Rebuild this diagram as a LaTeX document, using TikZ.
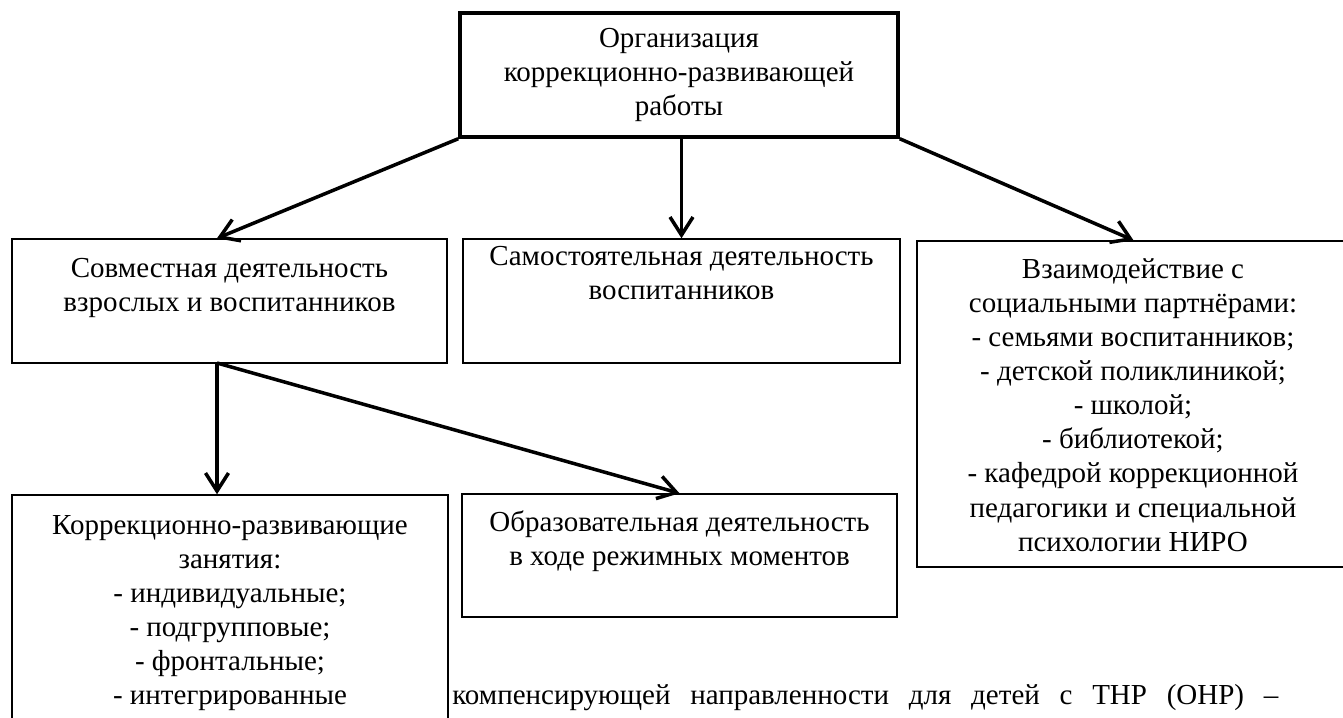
\documentclass[tikz,border=0pt]{standalone}
\usepackage{fontspec}
\setmainfont{Liberation Serif}
\usetikzlibrary{arrows.meta}
\tikzset{box/.style={draw, line width=0.8pt, inner sep=0pt},
         head/.style={draw, line width=2pt, align=center, minimum width=8.76cm, minimum height=2.48cm},
         txt/.style={align=center, inner sep=0pt},
         link/.style={line width=2pt, -{Straight Barb[length=3.6mm, width=4.6mm]}},
        }

\begin{document}
\begin{tikzpicture}[font=\fontsize{16.5}{19.4}\selectfont]
        \useasboundingbox (0,0) rectangle (26.86,14.36);
        \node[head](org)at(13.58,12.86){Организация\\коррекционно-развивающей\\работы};

        \node[box, minimum width=8.70cm, minimum height=2.48cm](sovm)at(4.59,8.34){};
        \node[txt](sovmt)at(4.59,8.60){Совместная деятельность\\взрослых и воспитанников};
        \node[box, minimum width=8.74cm, minimum height=2.48cm](samost)at(13.63,8.34){};
        \node[txt](samostt)at(13.63,8.90){Самостоятельная деятельность\\воспитанников};
        \node[box, minimum width=8.66cm, minimum height=6.52cm](vzaim)at(22.67,6.28){};
        \node[txt](vzaimt)at(22.66,6.26){Взаимодействие с\\социальными партнёрами:\\- семьями воспитанников;\\- детской поликлиникой;\\- школой;\\- библиотекой;\\- кафедрой коррекционной\\педагогики и специальной\\психологии НИРО};

        \node[box, minimum width=8.72cm, minimum height=4.90cm](korr)at(4.60,2.01){};
        \node[txt](korrt)at(4.60,2.10){Коррекционно-развивающие\\занятия:\\- индивидуальные;\\- подгрупповые;\\- фронтальные;\\- интегрированные};
        \node[box, minimum width=8.70cm, minimum height=2.46cm](obraz)at(13.59,3.25){};
        \node[txt](obrazt)at(13.59,3.54){Образовательная деятельность\\в ходе режимных моментов};

        \node[anchor=base west, inner sep=0pt](tail)at(9.04,0.26){\makebox[16.52cm][s]{компенсирующей направленности для детей с ТНР (ОНР) –}};

        \coordinate (jn) at (4.34,7.10);
        \draw[link](org.south west)--(jn |- sovm.north);
        \draw[link](samost.north |- org.south)--(samost.north);
        \draw[link](org.south east)--(vzaim.north);
        \draw[link](jn)--(jn |- korr.north);
        \draw[link](jn)--(obraz.north);
\end{tikzpicture}
\end{document}
